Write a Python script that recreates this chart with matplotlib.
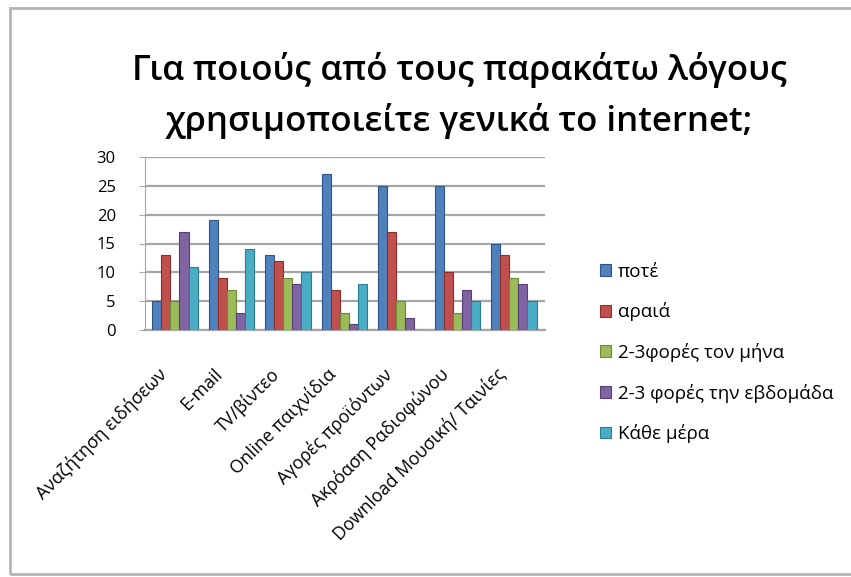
import matplotlib
matplotlib.use("Agg")
import numpy as np
from matplotlib import pyplot as plt
from matplotlib.patches import Rectangle

plt.rcParams["font.family"] = ["Open Sans", "DejaVu Sans"]

categories = [
    "Αναζήτηση ειδήσεων",
    "E-mail",
    "TV/βίντεο",
    "Online παιχνίδια",
    "Αγορές προϊόντων",
    "Ακρόαση Ραδιοφώνου",
    "Download Μουσική/ Ταινίες",
]
series_names = ["ποτέ", "αραιά", "2-3φορές τον μήνα", "2-3 φορές την εβδομάδα", "Κάθε μέρα"]
pote = [5, 19, 13, 27, 25, 25, 15]
araia = [13, 9, 12, 7, 17, 10, 13]
mina = [5, 7, 9, 3, 5, 3, 9]
evdomada = [17, 3, 8, 1, 2, 7, 8]
kathe_mera = [11, 14, 10, 8, 0, 5, 5]
colors = ["#4F81BD", "#C0504D", "#9BBB59", "#8064A2", "#4BACC6"]
edges = ["#2f5683", "#8c2f2c", "#6d8a36", "#573f78", "#2a7d93"]

fig = plt.figure(figsize=(8.51, 5.77), dpi=100)

# outer chart frame
fig.add_artist(Rectangle((10 / 851, 3 / 577), 850 / 851, 566 / 577,
                         transform=fig.transFigure, fill=False,
                         edgecolor="#b4b4b4", linewidth=2))

fig.text(0.54, 0.878, "Για ποιούς από τους παρακάτω λόγους", ha="center",
         va="center", fontsize=25, fontweight="semibold")
fig.text(0.54, 0.79, "χρησιμοποιείτε γενικά το internet;", ha="center",
         va="center", fontsize=25, fontweight="semibold")

ax = fig.add_axes([145 / 851, 1 - 330 / 577, 400 / 851, 173 / 577])
x = np.arange(len(categories))
width = 0.16
all_series = [pote, araia, mina, evdomada, kathe_mera]
for i, vals in enumerate(all_series):
    ax.bar(x + (i - 2) * width, vals, width, color=colors[i],
           edgecolor=edges[i], linewidth=0.8, label=series_names[i], zorder=3)

ax.set_ylim(0, 30)
ax.set_xlim(-0.53, 6.55)
ax.set_yticks(range(0, 31, 5))
ax.yaxis.grid(True, color="#a6a6a6", linewidth=1.6, zorder=0)
for s in ["top", "right"]:
    ax.spines[s].set_visible(False)
ax.spines["left"].set_color("#a6a6a6")
ax.spines["bottom"].set_color("#a6a6a6")
ax.spines["bottom"].set_linewidth(1.6)
ax.tick_params(axis="y", colors="#a6a6a6", labelcolor="black", labelsize=12,
               length=4, pad=17)
ax.set_xticks(x - 0.2)
ax.set_xticklabels(categories, rotation=45, ha="right", va="center",
                   rotation_mode="anchor", fontsize=12.8)
ax.tick_params(axis="x", length=0, pad=30)

fig.legend(loc="upper left", bbox_to_anchor=(583 / 851, 1 - 246 / 577),
           frameon=False, fontsize=13.5, handlelength=0.6, handleheight=0.6,
           handletextpad=0.35, labelspacing=1.15)

fig.savefig("out.png", dpi=100)
